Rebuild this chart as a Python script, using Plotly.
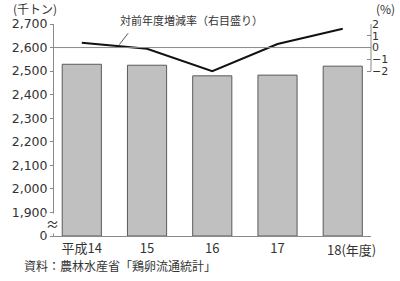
import plotly.graph_objects as go

categories = ["平成14", "15", "16", "17", "18"]
tick_labels = ["平成14", "15", "16", "17", "18(年度)"]
production = [2529, 2525, 2480, 2483, 2521]          # 千トン (left axis)
change_rate = [0.4, -0.1, -2.0, 0.3, 1.6]            # % (right axis)
left_tickvals = [1800, 1900, 2000, 2100, 2200, 2300, 2400, 2500, 2600, 2700]
left_ticktext = ["0", "1,900", "2,000", "2,100", "2,200", "2,300", "2,400", "2,500", "2,600", "2,700"]
right_tickvals = [-2, -1, 0, 1, 2]
right_ticktext = ["−2", "−1", "0", "1", "2"]

FONT = "Noto Sans CJK JP"
NUMFONT = "DejaVu Sans"
TXT = "#333333"
AX = "#8a8a8a"

xpos = list(range(len(categories)))

fig = go.Figure()
fig.add_trace(go.Bar(
    x=xpos, y=[v - 1800 for v in production], base=1800,
    width=0.6, marker=dict(color="#c0c0c0", line=dict(color="#5a5a5a", width=1)),
    yaxis="y", showlegend=False, hoverinfo="skip"))
fig.add_trace(go.Scatter(
    x=xpos, y=change_rate, mode="lines", line=dict(color="#111111", width=2),
    yaxis="y2", showlegend=False, hoverinfo="skip"))

fig.update_layout(
    width=400, height=281,
    margin=dict(l=47, r=28, t=24, b=45),
    paper_bgcolor="white", plot_bgcolor="white",
    font=dict(family=FONT, size=13, color=TXT),
    xaxis=dict(range=[-0.426, 4.433], tickvals=xpos[:4], ticktext=tick_labels[:4],
               showline=True, linecolor=AX, linewidth=1, ticks="", showgrid=False,
               zeroline=False, tickfont=dict(size=13)),
    yaxis=dict(range=[1800, 2700], tickvals=left_tickvals, ticktext=left_ticktext,
               showline=True, linecolor=AX, linewidth=1, ticks="outside", ticklen=3,
               tickcolor=AX, showgrid=False, zeroline=False,
               tickfont=dict(family=NUMFONT, size=12.5)),
    yaxis2=dict(range=[-16, 2], overlaying="y", side="right", tickvals=right_tickvals,
                ticktext=right_ticktext, showline=False, ticks="inside", ticklen=4,
                tickcolor=AX, showgrid=False, zeroline=False,
                tickfont=dict(family=NUMFONT, size=11)),
    bargap=0.4,
)

shapes = [
    # 0% reference line (aligned with 2,600)
    dict(type="line", xref="paper", yref="y2", x0=0, x1=1, y0=0, y1=0,
         line=dict(color=AX, width=1)),
    # right axis line only over the labeled range
    dict(type="line", xref="paper", yref="y2", x0=1, x1=1, y0=-2, y1=2,
         line=dict(color=AX, width=1)),
    # leader line for the line label
    dict(type="line", xref="x", yref="y2", x0=0.575, y0=0.25, x1=0.71, y1=1.21,
         line=dict(color="#555555", width=1)),
]
fig.update_layout(shapes=shapes)

annotations = [
    dict(text="(千トン)", xref="paper", yref="paper", x=-0.135, y=1.075,
         xanchor="left", yanchor="middle", showarrow=False, font=dict(size=12)),
    dict(text="(%)", xref="paper", yref="paper", x=1.0, y=1.075,
         xanchor="left", yanchor="middle", showarrow=False, xshift=3, font=dict(size=12)),
    dict(text="対前年度増減率（右目盛り）", xref="paper", yref="paper", x=0.435, y=1.02,
         xanchor="center", yanchor="middle", showarrow=False, font=dict(size=11)),
    dict(text="≈", xref="paper", yref="y", x=0, y=1852, xanchor="center",
         yanchor="middle", showarrow=False, xshift=-2, font=dict(size=13, color=TXT),
         bgcolor="white", borderpad=0),
    dict(text=tick_labels[4], xref="x", yref="paper", x=xpos[4], y=0,
         xanchor="left", yanchor="top", xshift=-18, yshift=-2, showarrow=False,
         font=dict(size=13)),
    dict(text="資料：農林水産省「鶏卵流通統計」", xref="paper", yref="paper",
         x=-0.1, y=-0.14, xanchor="left", yanchor="middle", showarrow=False,
         font=dict(size=12)),
]
fig.update_layout(annotations=annotations)

fig.write_html("out.html")
